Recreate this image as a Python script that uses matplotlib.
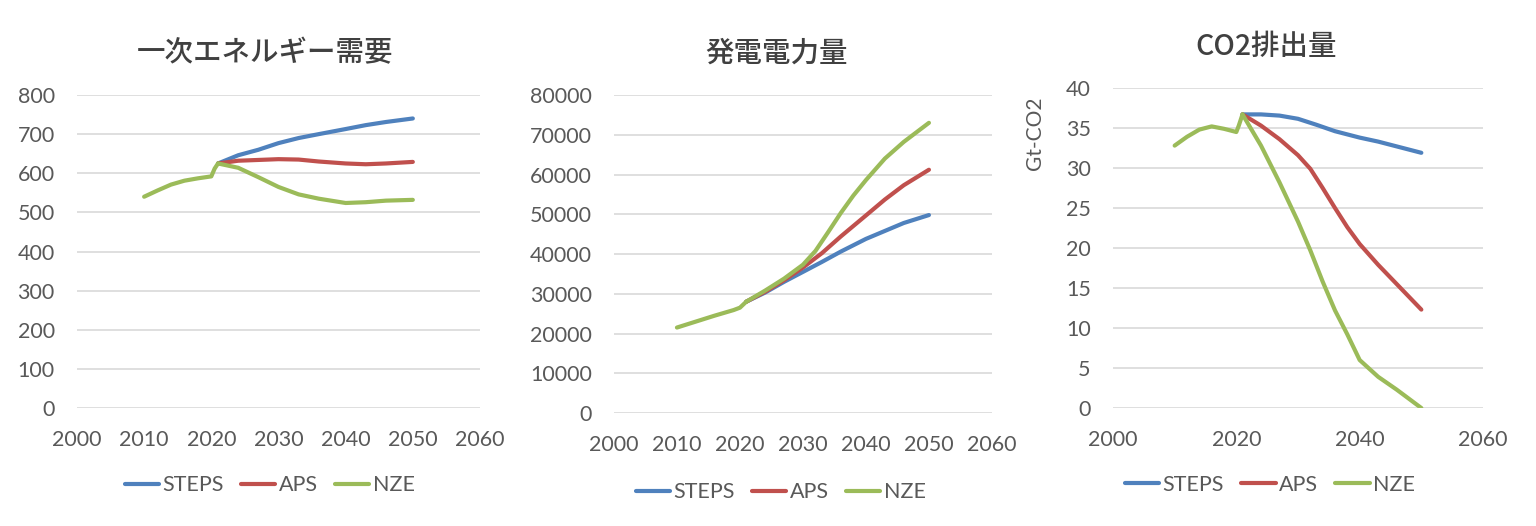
import matplotlib
matplotlib.use('Agg')
import matplotlib.pyplot as plt
import matplotlib.transforms as mtrans
import numpy as np

plt.rcParams['font.family'] = ['Lato', 'Noto Sans CJK JP', 'DejaVu Sans']

# 一次エネルギー需要
hist_x1 = [2010, 2012, 2014, 2016, 2018, 2020, 2020.5, 2021]
hist_y1 = [540, 556, 571, 581, 587, 592, 612, 625]
fut_x1 = [2021, 2024, 2027, 2030, 2033, 2036, 2040, 2043, 2046, 2050]
steps1 = [625, 646, 660, 677, 690, 700, 713, 723, 731, 740]
aps1 = [625, 632, 634, 636, 635, 630, 625, 623, 625, 629]
nze1 = [625, 614, 590, 565, 546, 535, 524, 526, 530, 532]

# 発電電力量
hist_x2 = [2010, 2013, 2016, 2019, 2020, 2021]
hist_y2 = [21500, 23000, 24500, 25900, 26500, 28000]
fut_x2 = [2021, 2024, 2027, 2030, 2033, 2036, 2040, 2043, 2046, 2050]
steps2 = [28000, 30300, 33000, 35500, 38000, 40600, 43800, 45800, 47800, 49800]
aps2 = [28000, 30500, 33400, 36600, 40200, 44400, 49700, 53700, 57300, 61200]
fut_x2n = [2021, 2024, 2027, 2030, 2032, 2034, 2036, 2038, 2040, 2043, 2046, 2050]
nze2 = [28000, 30800, 33800, 37300, 40800, 45500, 50300, 54700, 58600, 64000, 68200, 73000]

# CO2排出量
hist_x3 = [2010, 2012, 2014, 2016, 2018, 2020, 2020.4, 2021]
hist_y3 = [32.8, 33.9, 34.8, 35.2, 34.9, 34.5, 35.3, 36.7]
fut_x3 = [2021, 2024, 2027, 2030, 2033, 2036, 2040, 2043, 2046, 2050]
steps3 = [36.7, 36.7, 36.55, 36.15, 35.4, 34.6, 33.8, 33.3, 32.7, 31.9]
fut_x3b = [2021, 2024, 2027, 2030, 2032, 2034, 2036, 2038, 2040, 2043, 2046, 2050]
aps3 = [36.7, 35.3, 33.6, 31.6, 29.9, 27.5, 25.0, 22.6, 20.5, 17.9, 15.5, 12.3]
nze3 = [36.7, 32.8, 28.2, 23.3, 19.7, 15.8, 12.2, 9.2, 6.0, 3.9, 2.3, 0.0]

titles = ['一次エネルギー需要', '発電電力量', 'CO2排出量']
names = ['STEPS', 'APS', 'NZE']
colors = ['#4F81BD', '#C0504D', '#9BBB59']
txt = '#595959'

fig = plt.figure(figsize=(15.36, 5.26), dpi=100)
boxes = [[0.0501, 0.2243, 0.2624, 0.5951],
         [0.3997, 0.2148, 0.2461, 0.6046],
         [0.7246, 0.2243, 0.2409, 0.6084]]
data = [(hist_x1, hist_y1, [(fut_x1, steps1), (fut_x1, aps1), (fut_x1, nze1)]),
        (hist_x2, hist_y2, [(fut_x2, steps2), (fut_x2, aps2), (fut_x2n, nze2)]),
        (hist_x3, hist_y3, [(fut_x3, steps3), (fut_x3b, aps3), (fut_x3b, nze3)])]
ylims = [(0, 800, 100), (0, 80000, 10000), (0, 40, 5)]
xsteps = [10, 10, 20]
leg_y = [0.077, 0.064, 0.078]
center_x = [0.466, 0.431, 0.414]
leg_x = [0.478, 0.441, 0.424]

for i in range(3):
    ax = fig.add_axes(boxes[i])
    hx, hy, series = data[i]
    lines = []
    for (sx, sy), c, n in zip(series, colors, names):
        l, = ax.plot(sx, sy, color=c, lw=3, label=n, solid_capstyle='round',
                     solid_joinstyle='round')
        lines.append(l)
    # 実績部分は全シナリオ共通（最後に描かれる緑）
    ax.plot(hx, hy, color=colors[2], lw=3, solid_capstyle='round',
            solid_joinstyle='round')
    lo, hi, st = ylims[i]
    ax.set_ylim(lo, hi)
    ax.set_yticks(np.arange(lo, hi + st, st))
    ax.set_xlim(2000, 2060)
    ax.set_xticks(np.arange(2000, 2061, xsteps[i]))
    ax.grid(axis='y', color='#D9D9D9', lw=1.2)
    ax.set_axisbelow(True)
    for sp in ax.spines.values():
        sp.set_visible(False)
    ax.tick_params(length=0, labelsize=15.5, colors=txt)
    ax.tick_params(axis='y', pad=16)
    ax.tick_params(axis='x', pad=16)
    ax.set_title(titles[i], fontsize=20.5, color='#404040', pad=24, x=center_x[i],
                 family=['Noto Sans CJK JP', 'DejaVu Sans'], fontweight='medium')
    tr = mtrans.blended_transform_factory(ax.transAxes, fig.transFigure)
    ax.legend(lines, names, loc='center', bbox_to_anchor=(leg_x[i], leg_y[i]),
              bbox_transform=tr, ncol=3, frameon=False,
              fontsize=15.5, handlelength=1.6, handletextpad=0.15,
              columnspacing=0.8, labelcolor=txt)
    if i == 2:
        ax.set_ylabel('Gt-CO2', fontsize=15, color=txt)
        ax.yaxis.set_label_coords(-0.185, 0.86)

fig.savefig('out.png', dpi=100)
